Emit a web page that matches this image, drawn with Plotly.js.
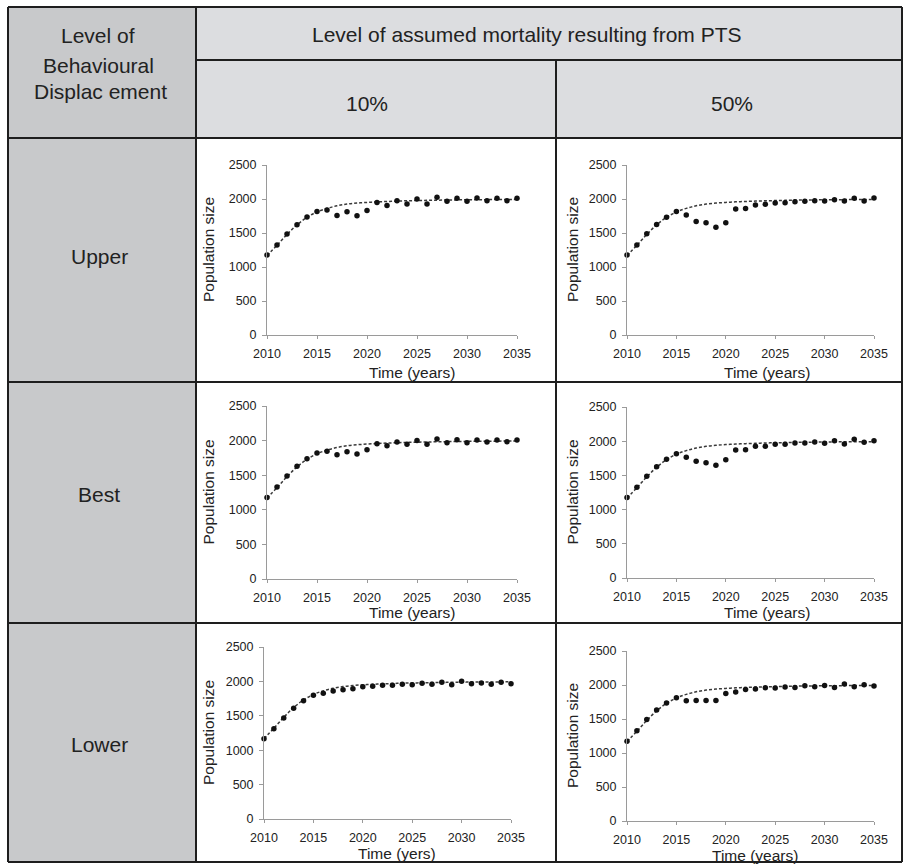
<!DOCTYPE html>
<html>
<head>
<meta charset="utf-8">
<script src="https://cdn.plot.ly/plotly-3.0.1.min.js"></script>
<style>
  html, body { margin: 0; padding: 0; background: #ffffff; }
  #chart { width: 904px; height: 864px; }
</style>
</head>
<body>
<div id="chart"></div>
<script>
// ---------------- DATA ----------------
const years = [2010, 2011, 2012, 2013, 2014, 2015, 2016, 2017, 2018, 2019, 2020, 2021, 2022,
               2023, 2024, 2025, 2026, 2027, 2028, 2029, 2030, 2031, 2032, 2033, 2034, 2035];

// dashed baseline (no PTS effect)
const baseline = [1170, 1320, 1478, 1620, 1730, 1810, 1862, 1900, 1925, 1940, 1950, 1958, 1964,
                  1969, 1974, 1977, 1980, 1983, 1985, 1987, 1989, 1990, 1991, 1992, 1993, 1994];

const upper10 = [1175, 1322, 1487, 1622, 1734, 1816, 1840, 1758, 1811, 1753, 1830, 1947, 1903,
                 1976, 1927, 2000, 1927, 2024, 1966, 2010, 1966, 2014, 1976, 2010, 1976, 2010];
const upper50 = [1178, 1322, 1488, 1624, 1732, 1815, 1766, 1668, 1649, 1585, 1649, 1854, 1859,
                 1912, 1922, 1941, 1946, 1961, 1966, 1976, 1971, 1990, 1971, 2010, 1971, 2015];
const best10  = [1178, 1329, 1488, 1628, 1739, 1821, 1845, 1797, 1840, 1806, 1869, 1956, 1927,
                 1980, 1946, 2000, 1946, 2023, 1970, 2013, 1970, 2009, 1980, 2009, 1985, 2009];
const best50  = [1178, 1326, 1486, 1628, 1735, 1818, 1764, 1706, 1686, 1647, 1730, 1871, 1876,
                 1925, 1925, 1954, 1954, 1974, 1974, 1988, 1969, 2008, 1959, 2027, 1983, 2008];
const lower10 = [1168, 1313, 1468, 1609, 1720, 1797, 1827, 1860, 1880, 1894, 1924, 1928, 1943,
                 1943, 1957, 1952, 1972, 1957, 1986, 1952, 2001, 1967, 1977, 1957, 1986, 1967];
const lower50 = [1174, 1326, 1493, 1631, 1734, 1812, 1768, 1773, 1773, 1773, 1876, 1896, 1935,
                 1940, 1960, 1955, 1970, 1965, 1990, 1974, 1994, 1965, 2014, 1974, 2004, 1984];

const yTicks = [0, 500, 1000, 1500, 2000, 2500];
const xTicks = [2010, 2015, 2020, 2025, 2030, 2035];

const rowLabels = ['Upper', 'Best', 'Lower'];
const colLabels = ['10%', '50%'];
const headerTitle = 'Level of assumed mortality resulting from PTS';
const cornerLines = ['Level of', 'Behavioural', 'Displac ement'];
const yTitle = 'Population size';
const xTitles = ['Time (years)', 'Time (years)', 'Time (years)', 'Time (years)', 'Time (yers)', 'Time (years)'];

const panelSeries = [upper10, upper50, best10, best50, lower10, lower50];

// ---------------- LAYOUT HELPERS ----------------
const W = 904, H = 864;
const fx = p => p / W;
const fy = p => 1 - p / H;

// plot-area pixel boxes [x0, x1, yTop(2500), yBottom(0)]
const boxes = [
  [267, 517, 165, 335],
  [627, 874, 165, 335],
  [267, 517, 406, 579],
  [627, 874, 407, 578],
  [264, 511, 647, 819],
  [627, 874, 651, 821]
];
// axis title positions [xTitleX, xTitleY, yTitleX]
const titlePos = [
  [412, 372, 208],
  [767, 372, 572],
  [412, 612, 208],
  [767, 612, 572],
  [397, 853, 208],
  [755, 855, 572]
];

const FONT = 'Liberation Sans, Arial, Helvetica, sans-serif';
const traces = [];
const layout = {
  width: W, height: H,
  margin: {l: 0, r: 0, t: 0, b: 0, pad: 0},
  paper_bgcolor: '#ffffff',
  plot_bgcolor: 'rgba(0,0,0,0)',
  showlegend: false,
  font: {family: FONT, color: '#222222'},
  shapes: [],
  annotations: []
};

boxes.forEach((b, i) => {
  const n = i + 1;
  const xa = n === 1 ? 'x' : 'x' + n;
  const ya = n === 1 ? 'y' : 'y' + n;
  const xKey = n === 1 ? 'xaxis' : 'xaxis' + n;
  const yKey = n === 1 ? 'yaxis' : 'yaxis' + n;

  traces.push({
    x: years, y: baseline, xaxis: xa, yaxis: ya,
    type: 'scatter', mode: 'lines',
    line: {color: '#3a3a3a', width: 1.5, dash: '3px,2px', shape: 'spline'},
    hoverinfo: 'skip'
  });
  traces.push({
    x: years, y: panelSeries[i], xaxis: xa, yaxis: ya,
    type: 'scatter', mode: 'markers',
    marker: {color: '#111111', size: 5.5},
    cliponaxis: false
  });

  layout[xKey] = {
    domain: [fx(b[0]), fx(b[1])],
    anchor: ya,
    range: [2010, 2035],
    tickvals: xTicks,
    showgrid: false, zeroline: false,
    showline: true, linecolor: '#9a9a9a', linewidth: 1,
    ticks: 'outside', ticklen: 3, tickcolor: '#9a9a9a',
    ticklabelstandoff: 4,
    tickfont: {size: 12.5, color: '#222222', family: FONT},
    fixedrange: true
  };
  layout[yKey] = {
    domain: [fy(b[3]), fy(b[2])],
    anchor: xa,
    range: [0, 2500],
    tickvals: yTicks,
    showgrid: false, zeroline: false,
    showline: true, linecolor: '#9a9a9a', linewidth: 1,
    ticks: 'outside', ticklen: 4, tickcolor: '#9a9a9a',
    ticklabelstandoff: 3,
    tickfont: {size: 12.5, color: '#222222', family: FONT},
    fixedrange: true
  };

  const t = titlePos[i];
  layout.annotations.push({
    text: xTitles[i], xref: 'paper', yref: 'paper',
    x: fx(t[0]), y: fy(t[1]), xanchor: 'center', yanchor: 'middle',
    showarrow: false, font: {size: 15.5, color: '#222222', family: FONT}
  });
  layout.annotations.push({
    text: yTitle, xref: 'paper', yref: 'paper', textangle: -90,
    x: fx(t[2]), y: fy((b[2] + b[3]) / 2), xanchor: 'center', yanchor: 'middle',
    showarrow: false, font: {size: 15.5, color: '#222222', family: FONT}
  });
});

// ---------------- TABLE FRAME ----------------
const L = 8, R = 902, T = 7, B = 862;
const leftCol = 196, midCol = 556;
const headMid = 60, headBot = 138, row1Bot = 382, row2Bot = 623;

function rect(x0, y0, x1, y1, fill) {
  layout.shapes.push({type: 'rect', xref: 'paper', yref: 'paper', layer: 'below',
    x0: fx(x0), x1: fx(x1), y0: fy(y1), y1: fy(y0),
    fillcolor: fill, line: {width: 0}});
}
function line(x0, y0, x1, y1) {
  layout.shapes.push({type: 'line', xref: 'paper', yref: 'paper', layer: 'above',
    x0: fx(x0), x1: fx(x1), y0: fy(y0), y1: fy(y1),
    line: {color: '#1e1e1e', width: 2}});
}
rect(L, T, leftCol, B, '#c8c9cb');
rect(leftCol, T, R, headBot, '#dcdde0');

line(L, T, R, T);
line(L, B, R, B);
line(L, T, L, B);
line(R, T, R, B);
line(leftCol, T, leftCol, B);
line(leftCol, headMid, R, headMid);
line(midCol, headMid, midCol, B);
line(L, headBot, R, headBot);
line(L, row1Bot, R, row1Bot);
line(L, row2Bot, R, row2Bot);

function label(text, x, y, size) {
  layout.annotations.push({text: text, xref: 'paper', yref: 'paper',
    x: fx(x), y: fy(y), xanchor: 'center', yanchor: 'middle', showarrow: false,
    font: {size: size, color: '#222222', family: FONT}});
}
label(cornerLines[0], 98, 35, 21);
label(cornerLines[1], 98, 65, 21);
label(cornerLines[2], 100, 91, 21);
label(headerTitle, 527, 34, 21);
label(colLabels[0], 367, 103, 21);
label(colLabels[1], 732, 103, 21);
label(rowLabels[0], 99, 256, 21);
label(rowLabels[1], 99, 495, 21);
label(rowLabels[2], 99, 744, 21);

Plotly.newPlot('chart', traces, layout, {displayModeBar: false, staticPlot: true});
</script>
</body>
</html>
